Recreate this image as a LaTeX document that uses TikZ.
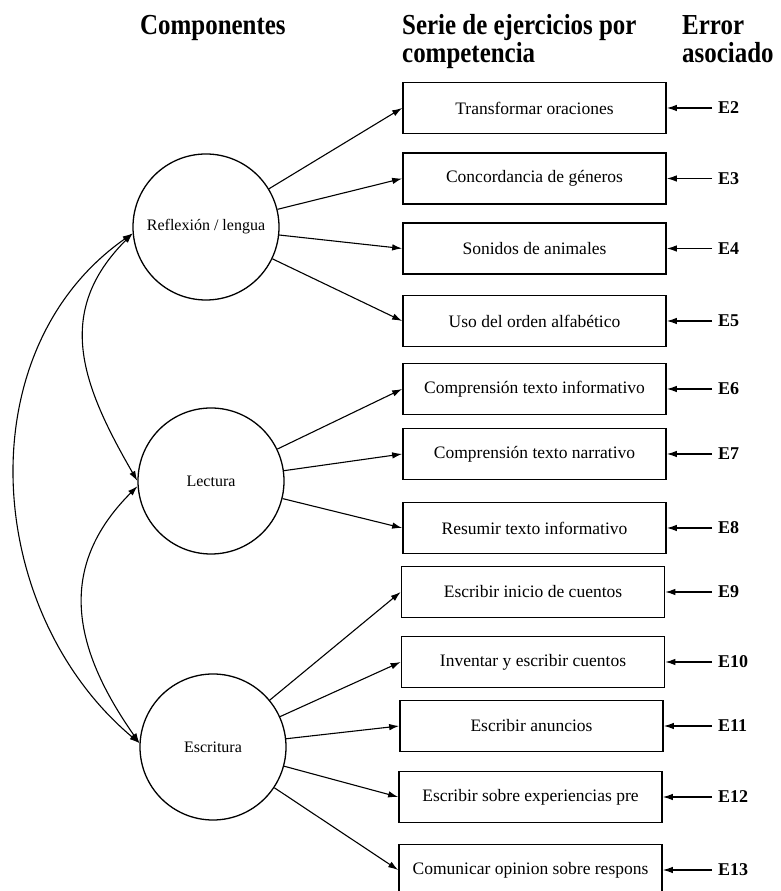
\documentclass[tikz,border=0pt]{standalone}
\usepackage{fontspec}
\setmainfont{Liberation Serif}
\newfontfamily\headfont[FakeStretch=0.86]{Liberation Serif}
\usetikzlibrary{arrows.meta}

\begin{document}
\begin{tikzpicture}[x=1pt,y=1pt,
  latent/.style={circle,draw,line width=1.3pt,minimum size=146pt,inner sep=0pt,
                 font=\fontsize{16}{19}\selectfont},
  obsbox/.style={rectangle,draw,line width=1.7pt,minimum width=263pt,minimum height=51pt,
                 inner sep=0pt,font=\fontsize{17.5}{20}\selectfont},
  errlab/.style={anchor=west,inner xsep=6pt,inner ysep=1pt,
                 font=\fontsize{18}{20}\selectfont\bfseries},
  head/.style={anchor=base west,inner sep=0pt,font=\headfont\fontsize{29}{34}\selectfont\bfseries},
  arr/.style={line width=1.1pt,-{Latex[length=10pt,width=6.5pt]}},
  cov/.style={line width=1.1pt,{Latex[length=10pt,width=6.5pt]}-{Latex[length=10pt,width=6.5pt]}}
]
\useasboundingbox (0,0) rectangle (780,891);
\clip (0,0) rectangle (780,891);

% column headings
\node[head] (hComp)  at (140,856) {Componentes};
\node[head] (hSerie1) at (402,856) {Serie de ejercicios por};
\node[head] (hSerie2) at (402,828) {competencia};
\node[head] (hErr1)  at (682,856) {Error};
\node[head] (hErr2)  at (682,828) {asociado};

% latent components
\node[latent] (R)  at (206,664) {Reflexión / lengua};
\node[latent] (L)  at (211,410) {Lectura};
\node[latent] (Es) at (213,144) {Escritura};

% observed exercises
\node[obsbox] (b2)  at (534.5,783)   {Transformar oraciones};
\node[obsbox] (b3)  at (534.5,712.5) {Concordancia de géneros};
\node[obsbox] (b4)  at (534.5,642.5) {Sonidos de animales};
\node[obsbox] (b5)  at (534.5,570)   {Uso del orden alfabético};
\node[obsbox] (b6)  at (534.5,502)   {Comprensión texto informativo};
\node[obsbox] (b7)  at (534.5,437)   {Comprensión texto narrativo};
\node[obsbox] (b8)  at (534.5,363)   {Resumir texto informativo};
\node[obsbox] (b9)  at (533,299)     {Escribir inicio de cuentos};
\node[obsbox] (b10) at (533,229)     {Inventar y escribir cuentos};
\node[obsbox] (b11) at (531.5,165)   {Escribir anuncios};
\node[obsbox] (b12) at (530.5,94)    {Escribir sobre experiencias pre};
\node[obsbox] (b13) at (530.5,21)    {Comunicar opinion sobre respons};

% error terms
\foreach \n/\yv in {2/783,3/712.5,4/642.5,5/570,6/502,7/437,8/363,9/299,10/229,11/165,12/94,13/21}{
  \node[errlab] (e\n) at (712,\yv) {E\n};
  \draw[arr] (e\n.west) -- (b\n.east);
}

% loadings
\foreach \b in {b2,b3,b4,b5}{\draw[arr] (R) -- (\b.west);}
\foreach \b in {b6,b7,b8}{\draw[arr] (L) -- (\b.west);}
\foreach \b in {b9,b10,b11,b12,b13}{\draw[arr] (Es) -- (\b.west);}

% covariances between components
\draw[cov] (R.185) to[out=225,in=120,looseness=1.15] (L.180);
\draw[cov] (L.184) to[out=225,in=125,looseness=1.15] (Es.177);
\draw[cov] (R.185) to[out=215,in=140,looseness=1.02] (Es.177);
\end{tikzpicture}
\end{document}
